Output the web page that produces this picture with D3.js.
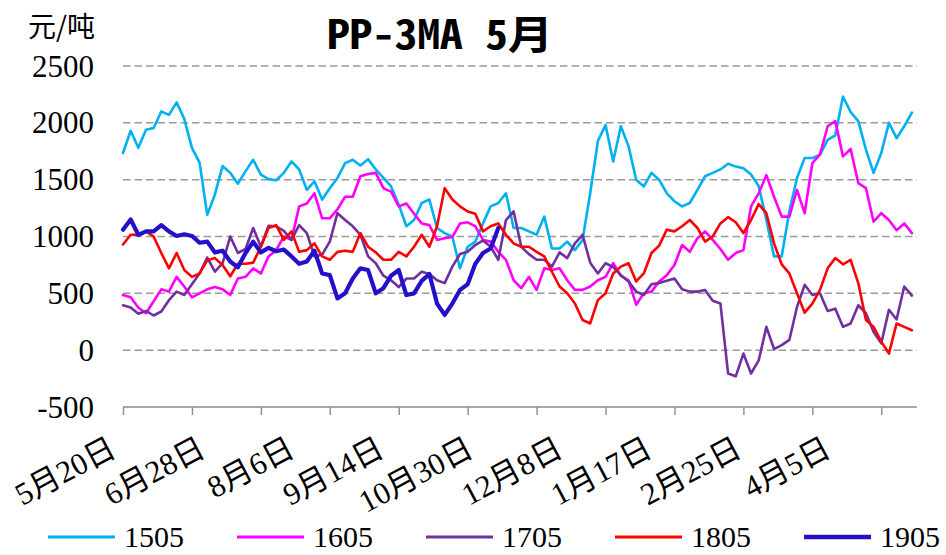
<!DOCTYPE html>
<html>
<head>
<meta charset="utf-8">
<script src="https://cdn.jsdelivr.net/npm/d3@7/dist/d3.min.js"></script>
<style>
  html, body { margin: 0; padding: 0; background: #fff; }
  svg { display: block; }
</style>
</head>
<body>
<svg id="chart" width="946" height="555"></svg>
<script>
// Trading-day axis: 312 days, one value every 3 days per contract
const dayCount = 312;
const sampleStep = 3;
const tickEvery = 27;
const labelEvery = 35;
const dateLabels = ['5月20日', '6月28日', '8月6日', '9月14日', '10月30日', '12月8日', '1月17日', '2月25日', '4月5日'];
const yTicks = [-500, 0, 500, 1000, 1500, 2000, 2500];

const seriesNames = ['1505', '1605', '1705', '1805', '1905'];

const s1505 = [1735, 1930, 1780, 1940, 1955, 2100, 2070, 2180, 2035, 1780, 1650, 1190, 1370, 1620, 1560, 1465, 1575, 1675, 1545, 1505, 1495, 1560,
  1660, 1590, 1410, 1485, 1325, 1425, 1515, 1645, 1675, 1625, 1680, 1590, 1515, 1440, 1280, 1090, 1145, 1295, 1325, 1075, 1030,
  1000, 720, 910, 955, 1115, 1265, 1295, 1380, 1075, 1075, 1045, 1015, 1175, 895, 895, 955, 880, 970, 1380, 1840, 1980, 1660,
  1970, 1795, 1500, 1440, 1560, 1500, 1380, 1310, 1265, 1295, 1410, 1530, 1560, 1590, 1640, 1615, 1600, 1545, 1445, 1145, 825,
  825, 1220, 1515, 1690, 1690, 1720, 1850, 1890, 2230, 2095, 2015, 1765, 1560, 1735, 2000, 1865, 1970, 2090];

const s1605 = [485, 465, 375, 325, 430, 535, 515, 645, 560, 465, 500, 535, 555, 535, 485, 630, 645, 720, 675, 825, 880, 1000,
  970, 1265, 1290, 1380, 1160, 1160, 1240, 1350, 1350, 1530, 1550, 1560, 1425, 1395, 1265, 1290, 1200, 1115, 1100, 970, 985,
  995, 1115, 1125, 1090, 970, 955, 865, 795, 615, 545, 645, 530, 720, 705, 720, 615, 530, 530, 560, 615, 645, 765,
  655, 615, 400, 500, 515, 605, 660, 750, 925, 865, 985, 1045, 970, 890, 795, 855, 880, 1265, 1380, 1540, 1350,
  1175, 1175, 1410, 1205, 1645, 1720, 1970, 2015, 1705, 1770, 1470, 1425, 1130, 1205, 1145, 1055, 1115, 1030];

const s1705 = [395, 375, 320, 345, 305, 340, 440, 515, 485, 580, 675, 815, 690, 765, 1000, 855, 890, 1075, 910, 1095, 1090, 1050,
  970, 1100, 1030, 825, 840, 955, 1205, 1145, 1090, 1015, 825, 765, 655, 615, 555, 630, 630, 690, 670, 615, 590,
  735, 845, 865, 925, 965, 910, 795, 1145, 1220, 910, 845, 795, 795, 735, 860, 810, 940, 1015, 770, 675, 765, 730,
  660, 605, 515, 485, 580, 590, 610, 630, 535, 515, 515, 530, 435, 410, -205, -230, -30, -205, -90, 205, 10,
  45, 90, 380, 575, 485, 500, 345, 365, 205, 235, 395, 325, 160, 60, 355, 270, 560, 480];

const s1805 = [930, 1015, 1015, 1045, 1000, 855, 720, 855, 705, 645, 675, 790, 810, 750, 650, 760, 760, 770, 910, 1075, 1100, 970,
  1045, 865, 880, 940, 825, 795, 865, 875, 865, 1030, 910, 860, 795, 795, 865, 825, 910, 1015, 910, 1090, 1425,
  1325, 1265, 1220, 1200, 1045, 1090, 1115, 1015, 940, 910, 910, 865, 825, 690, 560, 500, 410, 265, 235, 440, 500, 675,
  735, 765, 605, 675, 855, 920, 1060, 1045, 1090, 1145, 1075, 955, 1000, 1115, 1170, 1125, 1030, 1145, 1285, 1205, 940,
  755, 675, 500, 330, 410, 530, 720, 810, 755, 795, 590, 265, 205, 75, -30, 235, 205, 175];

const s1905 = [1060, 1150, 1015, 1045, 1045, 1100, 1045, 1005, 1020, 1005, 945, 955, 860, 875, 780, 730, 855, 955, 860, 900, 870, 885,
  825, 760, 780, 875, 675, 660, 455, 500, 630, 720, 705, 500, 545, 655, 705, 485, 500, 610, 670, 410, 310,
  410, 530, 580, 760, 855, 895, 1075];

const seriesColors = ['#00B0F0', '#FF00FF', '#7030A0', '#FF0000', '#2410C8'];
const seriesWidths = [2.6, 2.6, 2.6, 2.6, 4.2];
const seriesData = [s1505, s1605, s1705, s1805, s1905];

const serif = "'Liberation Serif', 'Times New Roman', 'Noto Sans CJK SC', serif";
const cjk = "'Noto Sans CJK SC', sans-serif";

const svg = d3.select('#chart');
const plotLeft = 123, plotRight = 917, plotTop = 66, plotBottom = 407;

const x = d3.scaleLinear().domain([0, dayCount - 1]).range([plotLeft, plotRight]);
const y = d3.scaleLinear().domain([-500, 2500]).range([plotBottom, plotTop]);

// Horizontal dashed gridlines
svg.append('g')
  .selectAll('line')
  .data(yTicks.filter(v => v > -500))
  .join('line')
  .attr('x1', plotLeft).attr('x2', plotRight)
  .attr('y1', d => y(d)).attr('y2', d => y(d))
  .attr('stroke', '#9A9A9A')
  .attr('stroke-width', 1.5)
  .attr('stroke-dasharray', '7.5,4');

// Y axis labels
svg.append('g')
  .selectAll('text')
  .data(yTicks)
  .join('text')
  .attr('x', 94)
  .attr('y', d => y(d) + 10.5)
  .attr('text-anchor', 'end')
  .attr('font-family', serif)
  .attr('font-size', 31)
  .attr('fill', '#000')
  .text(d => d);

// Unit label
svg.append('text')
  .attr('x', 28).attr('y', 37)
  .attr('font-family', cjk)
  .attr('font-size', 28)
  .attr('fill', '#000')
  .text('元/吨');

// Title
svg.append('text')
  .attr('x', 440).attr('y', 49)
  .attr('text-anchor', 'middle')
  .attr('font-family', "'Noto Sans Mono CJK SC', 'Noto Sans CJK SC', sans-serif")
  .attr('font-weight', 'bold')
  .attr('font-size', 40)
  .attr('textLength', 226)
  .attr('lengthAdjust', 'spacingAndGlyphs')
  .attr('fill', '#000')
  .text('PP-3MA 5月');

// X axis baseline and tick marks
const xAxis = d3.axisBottom(x)
  .tickValues(d3.range(0, dayCount, tickEvery))
  .tickSize(8)
  .tickFormat('');
const gx = svg.append('g')
  .attr('transform', `translate(0,${plotBottom})`)
  .call(xAxis);
gx.select('.domain').attr('stroke', '#8C8C8C').attr('stroke-width', 1.4).attr('d', `M${plotLeft},0H${plotRight}`);
gx.selectAll('.tick line').attr('stroke', '#8C8C8C').attr('stroke-width', 1.4);

// Rotated date labels
svg.append('g')
  .selectAll('text')
  .data(dateLabels)
  .join('text')
  .attr('transform', (d, i) => `translate(${x(i * labelEvery) - 5},455) rotate(-28)`)
  .attr('text-anchor', 'end')
  .attr('font-family', serif)
  .attr('font-size', 31)
  .attr('fill', '#000')
  .text(d => d);

// Series lines
const line = d3.line()
  .x((d, i) => x(i * sampleStep))
  .y(d => y(d));

svg.append('g')
  .selectAll('path')
  .data(seriesData)
  .join('path')
  .attr('d', d => line(d))
  .attr('fill', 'none')
  .attr('stroke', (d, i) => seriesColors[i])
  .attr('stroke-width', (d, i) => seriesWidths[i])
  .attr('stroke-linejoin', 'round')
  .attr('stroke-linecap', 'round');

// Legend
const legend = svg.append('g')
  .selectAll('g')
  .data(seriesNames)
  .join('g')
  .attr('transform', (d, i) => `translate(${48 + i * 189},0)`);
legend.append('line')
  .attr('x1', 0).attr('x2', 67)
  .attr('y1', 537).attr('y2', 537)
  .attr('stroke', (d, i) => seriesColors[i])
  .attr('stroke-width', (d, i) => i === 4 ? 4.5 : 3.2);
legend.append('text')
  .attr('x', 76).attr('y', 547)
  .attr('font-family', serif)
  .attr('font-size', 30)
  .attr('fill', '#000')
  .text(d => d);
</script>
</body>
</html>
